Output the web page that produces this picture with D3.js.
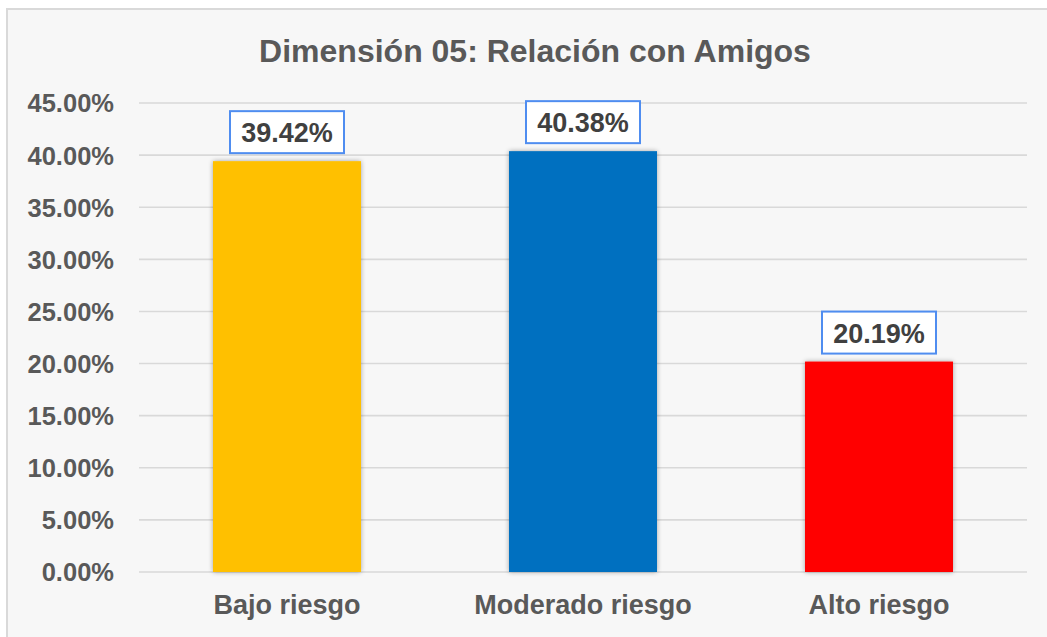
<!DOCTYPE html>
<html>
<head>
<meta charset="utf-8">
<script src="https://cdn.jsdelivr.net/npm/d3@7"></script>
<style>
  html, body { margin: 0; padding: 0; background: #fff; }
  svg { display: block; font-family: "Liberation Sans", Arial, sans-serif; }
</style>
</head>
<body>
<div id="chart"></div>
<script>
  'use strict';

  // chart data
  var categories = ['Bajo riesgo', 'Moderado riesgo', 'Alto riesgo'];
  var values     = [39.42, 40.38, 20.19];
  var barColors  = ['#FFC000', '#0070C0', '#FF0000'];
  var yTicks     = [0, 5, 10, 15, 20, 25, 30, 35, 40, 45];
  var title      = 'Dimensión 05: Relación con Amigos';

  var W = 1047, H = 637;
  var margin = {left: 139, right: 20, top: 103, bottom: 65};

  var svg = d3.select('#chart').append('svg')
    .attr('width', W)
    .attr('height', H);

  // drop shadow for bars
  var defs = svg.append('defs');
  var f = defs.append('filter').attr('id', 'shadow')
    .attr('x', '-10%').attr('y', '-10%').attr('width', '120%').attr('height', '120%');
  f.append('feGaussianBlur').attr('in', 'SourceAlpha').attr('stdDeviation', 2.5);
  f.append('feOffset').attr('dx', 0).attr('dy', 0).attr('result', 'blur');
  f.append('feComponentTransfer').append('feFuncA').attr('type', 'linear').attr('slope', 0.35);
  var m = f.append('feMerge');
  m.append('feMergeNode');
  m.append('feMergeNode').attr('in', 'SourceGraphic');

  // chart area background + border (top & left visible)
  svg.append('rect')
    .attr('x', 7).attr('y', 9)
    .attr('width', W + 10).attr('height', H + 10)
    .attr('fill', '#f7f7f7')
    .attr('stroke', '#d9d9d9')
    .attr('stroke-width', 2);

  var x = d3.scaleBand()
    .domain(categories)
    .range([margin.left, 1027])
    .paddingInner(0.5)
    .paddingOuter(0.25);

  var y = d3.scaleLinear()
    .domain([0, 45])
    .range([572, 103]);

  // title
  svg.append('text')
    .attr('x', 535).attr('y', 62)
    .attr('text-anchor', 'middle')
    .attr('fill', '#595959')
    .style('font-size', '32px')
    .style('font-weight', 'bold')
    .text(title);

  // gridlines
  svg.append('g').selectAll('line')
    .data(yTicks)
    .enter().append('line')
    .attr('x1', margin.left).attr('x2', 1027)
    .attr('y1', function(d){ return y(d); })
    .attr('y2', function(d){ return y(d); })
    .attr('stroke', '#d9d9d9')
    .attr('stroke-width', 1.6);

  // y axis labels
  var yAxis = d3.axisLeft(y)
    .tickValues(yTicks)
    .tickSize(0)
    .tickPadding(0)
    .tickFormat(function(d){ return d.toFixed(2) + '%'; });

  var gy = svg.append('g')
    .attr('transform', 'translate(114,0)')
    .call(yAxis);
  gy.select('.domain').remove();
  gy.selectAll('text')
    .attr('fill', '#595959')
    .attr('dy', '0.35em')
    .style('font-size', '25.5px')
    .style('font-weight', 'bold')
    .style('font-family', '"Liberation Sans", Arial, sans-serif');

  // x axis labels
  var xAxis = d3.axisBottom(x).tickSize(0).tickPadding(0);
  var gx = svg.append('g')
    .attr('transform', 'translate(0,614)')
    .call(xAxis);
  gx.select('.domain').remove();
  gx.selectAll('text')
    .attr('dy', 0)
    .attr('y', 0)
    .attr('fill', '#595959')
    .style('font-size', '27px')
    .style('font-weight', 'bold')
    .style('font-family', '"Liberation Sans", Arial, sans-serif');

  // bars
  svg.append('g').selectAll('rect')
    .data(values)
    .enter().append('rect')
    .attr('x', function(d, i){ return x(categories[i]); })
    .attr('y', function(d){ return y(d); })
    .attr('width', x.bandwidth())
    .attr('height', function(d){ return y(0) - y(d); })
    .attr('fill', function(d, i){ return barColors[i]; })
    .attr('filter', 'url(#shadow)');

  // data labels in boxes
  var lab = svg.append('g').selectAll('g')
    .data(values)
    .enter().append('g')
    .attr('transform', function(d, i){
      return 'translate(' + (x(categories[i]) + x.bandwidth() / 2) + ',' + (y(d) - 8) + ')';
    });

  lab.append('rect')
    .attr('x', -57).attr('y', -42)
    .attr('width', 114).attr('height', 42)
    .attr('fill', '#ffffff')
    .attr('stroke', '#4F8DF0')
    .attr('stroke-width', 2);

  lab.append('text')
    .attr('x', 0).attr('y', -11)
    .attr('text-anchor', 'middle')
    .attr('fill', '#404040')
    .style('font-size', '27px')
    .style('font-weight', 'bold')
    .text(function(d){ return d.toFixed(2) + '%'; });
</script>
</body>
</html>
